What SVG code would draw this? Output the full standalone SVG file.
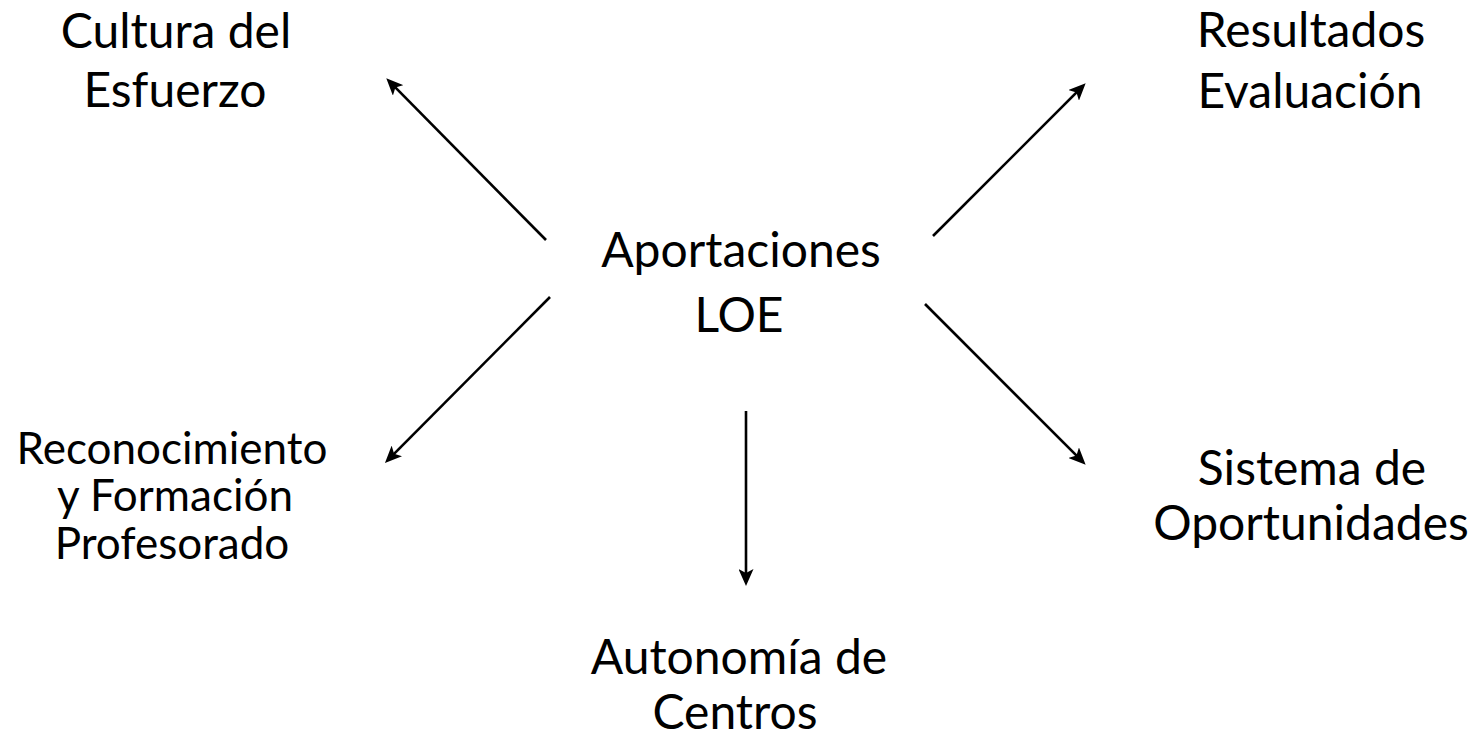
<svg xmlns="http://www.w3.org/2000/svg" width="1478" height="739" viewBox="0 0 1478 739">
<style>
.lbl{font-family:Lato,"Open Sans","Liberation Sans",sans-serif;font-size:48px;fill:#000;text-anchor:middle}
.sm{font-size:44px}
.conn line{stroke:#000;stroke-width:2.6;fill:none;marker-end:url(#ah)}
</style>
<defs>
<marker id="ah" viewBox="0 0 17 15" refX="8" refY="7.5" markerWidth="17" markerHeight="15" markerUnits="userSpaceOnUse" orient="auto">
<path d="M0,0 L17,7.5 L0,15 L4,7.5 Z" fill="#000"/>
</marker>
</defs>
<rect width="1478" height="739" fill="#fff"/>
<g id="connectors" class="conn">
<line x1="546" y1="240" x2="392.6" y2="84.7"/>
<line x1="933" y1="236" x2="1079.3" y2="89.7"/>
<line x1="746" y1="411" x2="746" y2="577"/>
<line x1="550" y1="297" x2="391.3" y2="456.6"/>
<line x1="925" y1="304" x2="1079.3" y2="458.4"/>
</g>
<g id="center"><text class="lbl" x="741" y="267">Aportaciones</text><text class="lbl" x="739" y="332">LOE</text></g>
<g id="cultura"><text class="lbl" x="176" y="48">Cultura del</text><text class="lbl" x="175" y="107">Esfuerzo</text></g>
<g id="resultados"><text class="lbl" x="1311" y="47">Resultados</text><text class="lbl" x="1310" y="108">Evaluación</text></g>
<g id="reconocimiento"><text class="lbl sm" x="172" y="464">Reconocimiento</text><text class="lbl sm" x="175" y="511">y Formación</text><text class="lbl sm" x="172" y="559">Profesorado</text></g>
<g id="sistema"><text class="lbl" x="1312" y="485">Sistema de</text><text class="lbl" x="1311" y="540">Oportunidades</text></g>
<g id="autonomia"><text class="lbl" x="739" y="674">Autonomía de</text><text class="lbl" x="735" y="729">Centros</text></g>
</svg>
